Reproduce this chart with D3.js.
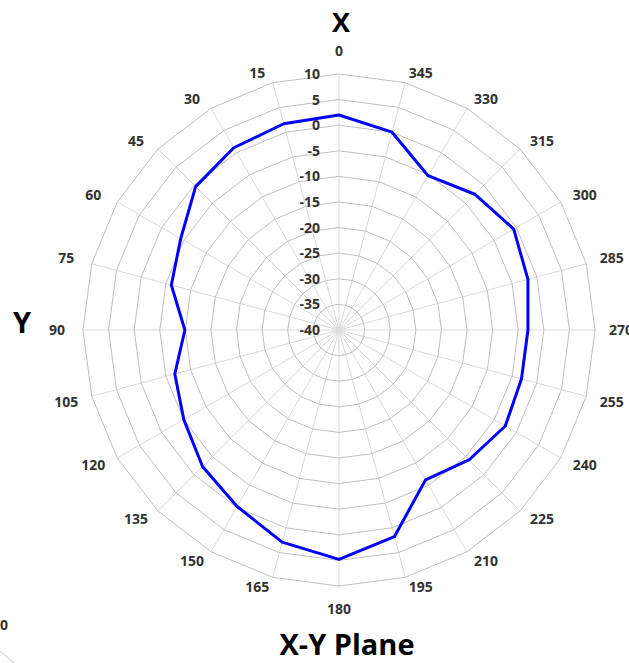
<!DOCTYPE html>
<html>
<head>
<meta charset="utf-8">
<script src="https://cdn.jsdelivr.net/npm/d3@7"></script>
<style>
  body { margin: 0; background: #fff; }
  svg { display: block; }
  text { font-family: "Open Sans", "Liberation Sans", sans-serif; font-weight: 700; }
</style>
</head>
<body>
<div id="graph"></div>
<script>
//Angle categories (degrees, counter clockwise from the top)
var angles = [0, 15, 30, 45, 60, 75, 90, 105, 120, 135, 150, 165, 180, 195, 210, 225, 240, 255, 270, 285, 300, 315, 330, 345];

//Pattern values in the X-Y plane
var gain = [2, 1.7, 1.1, -0.4, -4.3, -6.1, -9.9, -6.8, -5, -2.3, -0.2, 2.9, 4.8, 1.8, -6.2, -4.1, -2.5, -3.1, -3.1, -1.8, -0.6, -2.5, -5.2, 0];

//Radial ticks
var rTicks = [-40, -35, -30, -25, -20, -15, -10, -5, 0, 5, 10];

var width = 629, height = 663;
var cx = 339, cy = 330, outer = 256;

var svg = d3.select("#graph").append("svg")
  .attr("width", width).attr("height", height);

var r = d3.scaleLinear().domain([-40, 10]).range([0, outer]);
//d3 radial angles go clockwise, the chart goes counter clockwise
var a = d3.scaleLinear().domain([0, 360]).range([0, -2 * Math.PI]);

var g = svg.append("g").attr("transform", "translate(" + cx + "," + cy + ")");

//Spokes
g.selectAll(".spoke")
  .data(angles)
  .enter().append("line")
    .attr("class", "spoke")
    .attr("x1", 0).attr("y1", 0)
    .attr("x2", function(d) { return outer * Math.sin(a(d)); })
    .attr("y2", function(d) { return -outer * Math.cos(a(d)); })
    .attr("stroke", "#d9d9d9")
    .attr("stroke-width", 1);

//Ring polygons
var ringLine = d3.lineRadial()
  .angle(function(d) { return a(d); })
  .curve(d3.curveLinearClosed);

g.selectAll(".ring")
  .data(rTicks.slice(1))
  .enter().append("path")
    .attr("class", "ring")
    .attr("d", function(t) { return ringLine.radius(r(t))(angles); })
    .attr("fill", "none")
    .attr("stroke", "#c0c0c0")
    .attr("stroke-width", 1);

//Radial tick labels
g.selectAll(".rlab")
  .data(rTicks)
  .enter().append("text")
    .attr("class", "rlab")
    .attr("x", -19)
    .attr("y", function(t) { return -r(t); })
    .attr("dy", "0.36em")
    .attr("text-anchor", "end")
    .attr("font-size", 14)
    .attr("fill", "#333")
    .text(function(t) { return t; });

//Angle labels
function sgn(v) { return Math.abs(v) < 1e-6 ? 0 : (v > 0 ? 1 : -1); }
g.selectAll(".alab")
  .data(angles)
  .enter().append("text")
    .attr("class", "alab")
    .attr("x", function(d) {
      var s = Math.sin(a(d));
      return 270 * s + 12 * sgn(s);
    })
    .attr("y", function(d) {
      var c = Math.cos(a(d));
      var extra = Math.abs(c) > 0.99 ? 17 : 4;
      return -(262 * c + extra * sgn(c));
    })
    .attr("dy", "0.36em")
    .attr("text-anchor", "middle")
    .attr("font-size", 14)
    .attr("fill", "#333")
    .text(function(d) { return d; });

//Data line
var data = angles.map(function(d, i) { return {deg: d, v: gain[i]}; });
var line = d3.lineRadial()
  .angle(function(d) { return a(d.deg); })
  .radius(function(d) { return r(d.v); })
  .curve(d3.curveLinearClosed);

g.append("path")
  .datum(data)
  .attr("d", line)
  .attr("fill", "none")
  .attr("stroke", "#0000ff")
  .attr("stroke-width", 3)
  .attr("stroke-linejoin", "round");

//Axis titles
svg.append("text").attr("x", 341).attr("y", 32)
  .attr("text-anchor", "middle").attr("font-size", 27).attr("fill", "#000").text("X");
svg.append("text").attr("x", 22).attr("y", 333)
  .attr("text-anchor", "middle").attr("font-size", 29).attr("fill", "#000").text("Y");
svg.append("text").attr("x", 347).attr("y", 655)
  .attr("text-anchor", "middle").attr("font-size", 29).attr("fill", "#000").text("X-Y Plane");

//Edge of the next chart peeking in at the bottom left
svg.append("text").attr("x", 4).attr("y", 630)
  .attr("text-anchor", "middle").attr("font-size", 14).attr("fill", "#333").text("0");
svg.append("text").attr("x", 48).attr("y", 673)
  .attr("text-anchor", "middle").attr("font-size", 14).attr("fill", "#333").text("315");
svg.append("line").attr("x1", 0).attr("y1", 651).attr("x2", 14).attr("y2", 663)
  .attr("stroke", "#c4c4c4").attr("stroke-width", 1);
</script>
</body>
</html>
